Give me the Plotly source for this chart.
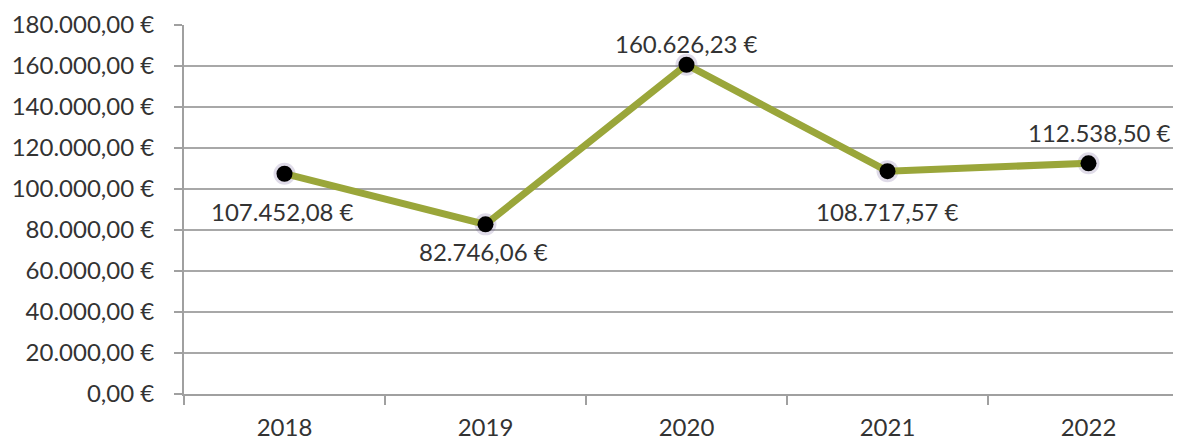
import plotly.graph_objects as go

years = ["2018", "2019", "2020", "2021", "2022"]
values = [107452.08, 82746.06, 160626.23, 108717.57, 112538.50]
labels = ["107.452,08 €", "82.746,06 €", "160.626,23 €", "108.717,57 €", "112.538,50 €"]
label_dy = [38, 27, -21, 40, -31]
label_dx = [-2, -2, 0, 0, 11]
y_ticks = list(range(0, 180001, 20000))
y_ticktext = ["0,00 €", "20.000,00 €", "40.000,00 €", "60.000,00 €", "80.000,00 €",
              "100.000,00 €", "120.000,00 €", "140.000,00 €", "160.000,00 €", "180.000,00 €"]

FONT = "Lato"
TXT = "#333333"
FS = 24

fig = go.Figure()
# soft shadow beneath markers
fig.add_trace(go.Scatter(
    x=years, y=values, mode="markers",
    marker=dict(size=22, color="rgba(110,90,150,0.22)", line=dict(width=0)),
    hoverinfo="skip", showlegend=False,
))
fig.add_trace(go.Scatter(
    x=years, y=values, mode="lines+markers",
    line=dict(color="#9aa63a", width=7),
    marker=dict(size=16, color="#000000", line=dict(width=0)),
    showlegend=False,
))

for i, (y, t, dy, dx) in enumerate(zip(values, labels, label_dy, label_dx)):
    fig.add_annotation(x=i, y=y, text=t, showarrow=False, xref="x", yref="y",
                       yshift=-dy, xshift=dx,
                       font=dict(family=FONT, size=FS, color=TXT))

fig.update_layout(
    width=1181, height=438,
    margin=dict(l=176, r=0, t=17, b=52, autoexpand=False),
    paper_bgcolor="white", plot_bgcolor="white",
    font=dict(family=FONT, size=FS, color=TXT),
)
fig.update_xaxes(
    type="category", tickson="boundaries", ticks="outside", ticklen=9,
    tickcolor="#a0a0a0", tickwidth=2, showgrid=False,
    showline=True, linecolor="#a0a0a0", linewidth=2,
    tickfont=dict(family=FONT, size=FS, color=TXT),
    tickangle=0, range=[-0.5, 4.5],
    ticklabelstandoff=11,
)
fig.update_yaxes(
    range=[0, 180000], tickvals=y_ticks, ticktext=y_ticktext,
    ticks="outside", ticklen=8, tickcolor="#a0a0a0", tickwidth=2,
    showgrid=True, gridcolor="#a8a8a8", gridwidth=2,
    showline=True, linecolor="#a0a0a0", linewidth=2,
    zeroline=False,
    tickfont=dict(family=FONT, size=FS, color=TXT),
    ticklabelstandoff=15,
)

fig.write_html("out.html")
